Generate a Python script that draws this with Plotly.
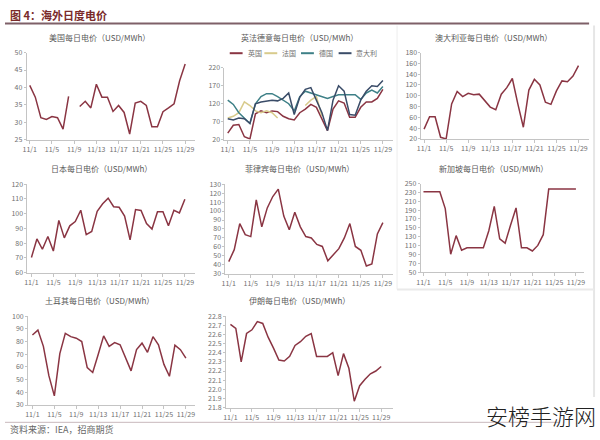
import plotly.graph_objects as go

W, H = 600, 440

# ---------------- data ----------------
days = list(range(1, 30))
tick_days = [1, 5, 9, 13, 17, 21, 25, 29]
tick_labels = ["11/1", "11/5", "11/9", "11/13", "11/17", "11/21", "11/25", "11/29"]

us_price = [40.6, 37.2, 31.3, 30.8, 31.6, 31.3, 28.0, 37.4, None, 34.5, 36.0, 34.1, 40.9, 37.2,
            37.2, 33.1, 34.8, 32.8, 26.6, 35.5, 36.0, 34.8, 28.7, 28.7, 33.0, 34.1, 35.3, 41.9, 46.7]

uk_price = [38, 60, 62, 28, 22, 92, 100, 95, 100, 98, 85, 78, 75, 95, 105, 118, 110, 75, 45,
            105, 128, 122, 82, 82, 110, 125, 125, 135, 160]
fr_price = [80, 85, 95, 125, 115, 100, 95, 100, 95, 80, None, None, None, None, 115, 130, 140,
            85, None, None, None, None, None, None, None, None, None, None, None]
de_price = [130, 118, 95, 80, 65, 120, 140, 148, 148, 140, 130, 120, 100, 140, 155, 150, 145,
            140, 135, 140, 145, 145, 145, 145, 132, 150, 158, 150, 168]
it_price = [78, 75, 80, 78, 65, 120, 125, 128, 130, 128, 135, 150, 90, 138, 160, 165, 130, 95,
            45, 130, 170, 155, 90, 88, 130, 155, 170, 168, 185]

au_price = [38.1, 61, 61, 23, 20, 85, 108, 98.5, 104.5, 102, 103, 92, 79, 74, 103, 115, 132, 85,
            41.7, 110.6, 130.5, 120, 88, 84, 109, 127.5, 126, 136.5, 156]

jp_price = [70.2, 82.8, 75.8, 84.4, 74.6, 95.4, 83.5, 91.7, 94.6, 102.3, 85.7, 87.9, 101.6, 106.7,
            110.5, 104.7, 104.3, 98.3, 82.2, 102.7, 102.1, 93.2, 89.5, 101.2, 101.2, 91.7, 102.3,
            100.5, 109.8]

ph_price = [43.5, 56.9, 86, 73.6, 71.5, 112.5, 82.4, 103.5, 116.2, 124.5, 94.4, 79.1, 98.7, 82.4,
            71.5, 70, 62.7, 60.5, 44.5, 50.7, 58, 70, 86, 60.5, 56.2, 38.7, 40.9, 74.4, 87]

sg_price = [231.6, 231.6, 231.6, 231.6, 193.4, 90.4, 132.4, 99.3, 105, 105, 105, 105, 143.4, 198.5,
            125, 115.4, 156.6, 194.9, 105, 105, 97.8, 110.3, 134.6, 237.5, 237.5, 237.5, 237.5,
            237.5, 237.5]

tr_price = [85.1, 89, 76.2, 53.1, 37.2, 70.5, 86.4, 83.8, 82.6, 80, 59.5, 55.6, 69.7, 84.4, 76.2,
            79.2, 77.4, 67.2, 56.9, 73.6, 78.7, 71.5, 83.8, 77.4, 62, 52.6, 77.2, 73.6, 66.9]

ir_price = [22.71, 22.665, 22.30, 22.61, 22.65, 22.74, 22.72, 22.57, 22.45, 22.32, 22.31, 22.36,
            22.48, 22.52, 22.58, 22.61, 22.36, 22.36, 22.36, 22.40, 22.15, 22.39, 22.23, 21.87,
            22.04, 22.11, 22.17, 22.20, 22.25]

panel_titles = ["美国每日电价（USD/MWh）", "英法德意每日电价（USD/MWh）", "澳大利亚每日电价（USD/MWh）",
                "日本每日电价（USD/MWh）", "菲律宾每日电价（USD/MWh）", "新加坡每日电价（USD/MWh）",
                "土耳其每日电价（USD/MWh）", "伊朗每日电价（USD/MWh）"]
eu_names = ["英国", "法国", "德国", "意大利"]

# ---------------- styles ----------------
RED = "#8A3543"
EU_COLORS = ["#8A3543", "#D8CB8C", "#3E8087", "#3A4C68"]
FONT = "Noto Sans CJK SC"
AX = "#C4C4C4"
TXT = "#707070"


def fx(x):
    return x / W


def fy(y):
    return 1 - y / H


# panel geometry in pixels
panels = [
    dict(L=22, R=192, p1=25, p29=182, top=47.7, bot=136.7, ymax=50, ymin=25, dt=5, tx=95, ty=32),
    dict(L=221.7, R=392, p1=225, p29=381.7, top=63.3, bot=136.7, ymax=220, ymin=20, dt=50, tx=297, ty=32),
    dict(L=420.7, R=590, p1=423.3, p29=579.3, top=47.7, bot=136, ymax=180, ymin=20, dt=20, tx=493, ty=32),
    dict(L=22.7, R=192, p1=26.7, p29=181.7, top=182.3, bot=272.7, ymax=120, ymin=60, dt=10, tx=97, ty=166.5),
    dict(L=222.7, R=392, p1=226, p29=381.7, top=182.3, bot=274, ymax=130, ymin=30, dt=10, tx=297, ty=166.5),
    dict(L=420, R=585, p1=422.7, p29=576.7, top=181.7, bot=272.3, ymax=250, ymin=50, dt=20, tx=493, ty=166.5),
    dict(L=23.3, R=192, p1=27.7, p29=182.7, top=317.3, bot=408.3, ymax=100, ymin=30, dt=10, tx=95, ty=301.5),
    dict(L=223.3, R=392, p1=227.7, p29=380, top=317.3, bot=411, ymax=22.8, ymin=21.8, dt=0.1, tx=297, ty=301.5),
]

fig = go.Figure()

series_by_panel = [
    [(us_price, RED, "美国")],
    [(uk_price, EU_COLORS[0], eu_names[0]), (fr_price, EU_COLORS[1], eu_names[1]),
     (de_price, EU_COLORS[2], eu_names[2]), (it_price, EU_COLORS[3], eu_names[3])],
    [(au_price, RED, "澳大利亚")],
    [(jp_price, RED, "日本")],
    [(ph_price, RED, "菲律宾")],
    [(sg_price, RED, "新加坡")],
    [(tr_price, RED, "土耳其")],
    [(ir_price, RED, "伊朗")],
]

annotations = []
shapes = []
layout_axes = {}

for i, (p, series) in enumerate(zip(panels, series_by_panel)):
    n = i + 1
    xa = "x" if n == 1 else f"x{n}"
    ya = "y" if n == 1 else f"y{n}"
    for vals, col, name in series:
        fig.add_trace(go.Scatter(x=days, y=vals, mode="lines", name=name,
                                 line=dict(color=col, width=1.5), connectgaps=False,
                                 xaxis=xa, yaxis=ya, showlegend=False))
    per = (p["p29"] - p["p1"]) / 28
    xmin = 1 - (p["p1"] - p["L"]) / per
    xmax = 29 + (p["R"] - p["p29"]) / per
    xkey = "xaxis" if n == 1 else f"xaxis{n}"
    ykey = "yaxis" if n == 1 else f"yaxis{n}"
    layout_axes[xkey] = dict(
        domain=[fx(p["L"]), fx(p["R"])], range=[xmin, xmax], anchor=ya,
        tickvals=tick_days, ticktext=tick_labels, showgrid=False, zeroline=False,
        showline=True, linecolor=AX, linewidth=1, ticks="outside", ticklen=3, tickcolor=AX,
        tickfont=dict(size=7, color=TXT, family=FONT), fixedrange=True)
    layout_axes[ykey] = dict(
        domain=[fy(p["bot"]), fy(p["top"])], range=[p["ymin"], p["ymax"]], anchor=xa,
        dtick=p["dt"], tick0=p["ymin"], showgrid=False, zeroline=False,
        showline=True, linecolor=AX, linewidth=1, ticks="outside", ticklen=2, tickcolor=AX,
        tickformat=".1f" if p["dt"] < 1 else "d",
        tickfont=dict(size=7, color=TXT, family=FONT), fixedrange=True)
    annotations.append(dict(x=fx(p["tx"]), y=fy(p["ty"]), xref="paper", yref="paper",
                            text=panel_titles[i], showarrow=False, xanchor="center", yanchor="middle",
                            font=dict(size=8, color="#5A5A5A", family=FONT)))

# Europe legend (manual keys)
leg_y = 48.3
leg_items = [(227, 243), (262, 278), (299, 315), (337, 353)]
for (lx, tx), col, name in zip(leg_items, EU_COLORS, eu_names):
    shapes.append(dict(type="line", xref="paper", yref="paper", x0=fx(lx), x1=fx(lx + 13),
                       y0=fy(leg_y), y1=fy(leg_y), line=dict(color=col, width=2)))
    annotations.append(dict(x=fx(tx), y=fy(leg_y), xref="paper", yref="paper", text=name,
                            showarrow=False, xanchor="left", yanchor="middle",
                            font=dict(size=7, color=TXT, family=FONT)))

# header title and rule
annotations.append(dict(x=fx(3), y=fy(9), xref="paper", yref="paper", text="<b>图 4：海外日度电价</b>",
                        showarrow=False, xanchor="left", yanchor="middle",
                        font=dict(size=11, color="#7A2A2A", family=FONT)))
shapes.append(dict(type="line", xref="paper", yref="paper", x0=0, x1=fx(590), y0=fy(18), y1=fy(18),
                   line=dict(color="#7E6068", width=2)))

# light frame around right column
shapes.append(dict(type="line", xref="paper", yref="paper", x0=fx(396), x1=fx(396), y0=fy(20), y1=fy(290),
                   line=dict(color="#EDEDED", width=1)))
shapes.append(dict(type="line", xref="paper", yref="paper", x0=fx(595), x1=fx(595), y0=fy(20), y1=fy(400),
                   line=dict(color="#E6E6E6", width=2)))
shapes.append(dict(type="line", xref="paper", yref="paper", x0=fx(396), x1=fx(595), y0=fy(290), y1=fy(290),
                   line=dict(color="#EAEAEA", width=2)))

# bottom rule and source
shapes.append(dict(type="line", xref="paper", yref="paper", x0=0, x1=fx(560), y0=fy(426), y1=fy(426),
                   line=dict(color="#C8B8BC", width=1)))
annotations.append(dict(x=fx(3), y=fy(433), xref="paper", yref="paper", text="资料来源：IEA，招商期货",
                        showarrow=False, xanchor="left", yanchor="middle",
                        font=dict(size=9, color="#666666", family=FONT)))
# watermark
annotations.append(dict(x=fx(599), y=fy(418), xref="paper", yref="paper", text="安榜手游网",
                        showarrow=False, xanchor="right", yanchor="middle",
                        font=dict(size=22, color="#222222", family=FONT, weight=300)))

fig.update_layout(
    width=W, height=H, margin=dict(l=0, r=0, t=0, b=0),
    paper_bgcolor="white", plot_bgcolor="white",
    showlegend=False, annotations=annotations, shapes=shapes,
    font=dict(family=FONT),
    **layout_axes,
)

fig.write_html("out.html")
